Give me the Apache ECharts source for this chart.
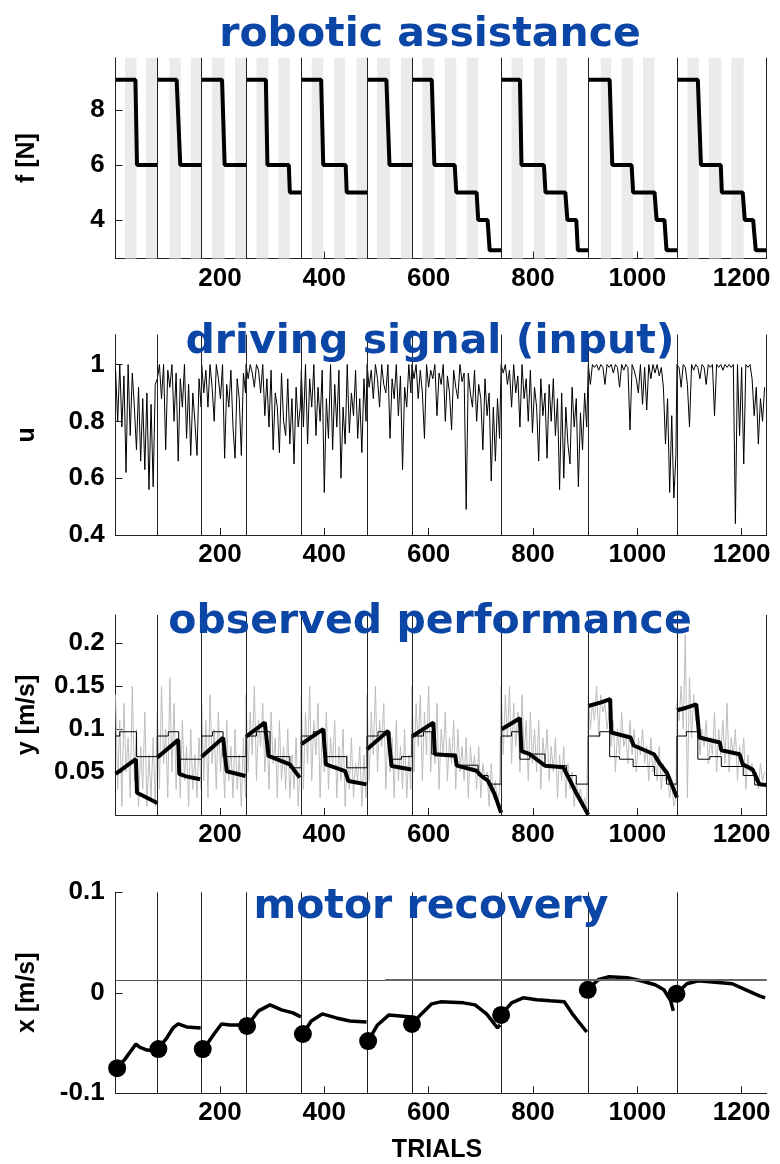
<!DOCTYPE html>
<html>
<head>
<meta charset="utf-8">
<script src="https://cdn.jsdelivr.net/npm/echarts@6/dist/echarts.min.js"></script>
<style>
html,body{margin:0;padding:0;background:#fff;}
#chart{width:780px;height:1164px;}
</style>
</head>
<body>
<div id="chart"></div>
<script>
// ---------- data ----------
const BOUNDS = [0, 80, 165, 250, 356, 482, 568, 739, 906, 1076, 1247];
const SAMPLE_STEP = 4;
const X_TICKS = [200, 400, 600, 800, 1000, 1200];

const TITLES = ['robotic assistance', 'driving signal (input)', 'observed performance', 'motor recovery'];
const Y_NAMES = ['f [N]', 'u', 'y [m/s]', 'x [m/s]'];
const X_NAME = 'TRIALS';

const F_TICKS = [4, 6, 8];
const U_TICKS = [0.4, 0.6, 0.8, 1];
const Y_TICKS = [0.05, 0.1, 0.15, 0.2];
const X_REC_TICKS = [-0.1, 0, 0.1];

// grey practice bands (trial ranges)
const BANDS = [[18,40],[58,79],[103,125],[144,164],[185,209],[229,250],[270,293],[312,334],
  [376,398],[419,440],[462,482],[501,526],[547,568],[588,611],[631,653],[673,695],
  [759,781],[802,823],[845,865],[930,950],[970,992],[1011,1033],[1096,1118],[1137,1161],[1180,1204]];

// robotic assistance f [N] per block
const F_BLOCKS = [
  [[0,9.1],[38,9.1],[41,6],[80,6]],
  [[80,9.1],[117,9.1],[124,6],[165,6]],
  [[165,9.1],[204,9.1],[209,6],[250,6]],
  [[250,9.1],[288,9.1],[291,6],[332,6],[334,5],[356,5]],
  [[356,9.1],[394,9.1],[398,6],[441,6],[443,5],[482,5]],
  [[482,9.1],[519,9.1],[525,6],[568,6]],
  [[568,9.1],[606,9.1],[611,6],[650,6],[653,5],[692,5],[695,4],[713,4],[717,2.9],[739,2.9]],
  [[739,9.1],[775,9.1],[778,6],[821,6],[824,5],[862,5],[866,4],[883,4],[886,2.9],[906,2.9]],
  [[906,9.1],[947,9.1],[952,6],[989,6],[992,5],[1033,5],[1037,4],[1052,4],[1056,2.9],[1076,2.9]],
  [[1076,9.1],[1116,9.1],[1122,6],[1160,6],[1162,5],[1202,5],[1206,4],[1222,4],[1227,2.9],[1247,2.9]]
];

// driving signal u, one value every SAMPLE_STEP trials from each block start
const u1 = [0.98,0.80,1.00,0.78,0.96,0.62,1.00,0.75,0.97,0.85,0.70,0.92,0.66,0.88,0.63,0.90,0.56,0.86,0.57,0.93];
const u2 = [0.95,1.00,0.88,1.00,0.70,0.98,0.92,1.00,0.80,0.97,0.66,0.95,0.85,1.00,0.74,0.93,0.68,0.90,0.80,0.68,0.95,0.85];
const u3 = [1.00,0.90,0.98,0.85,1.00,0.92,0.80,1.00,0.95,0.88,1.00,0.67,0.93,0.85,0.98,0.78,0.67,0.95,0.88,0.68,0.97,0.90];
const u4 = [1.00,0.95,1.00,0.97,0.92,1.00,0.98,0.90,1.00,0.82,0.95,0.78,0.98,0.70,0.90,0.85,0.69,0.97,0.80,0.75,0.95,0.72,0.88,0.65,0.92,0.78,0.85];
const u5 = [0.98,0.78,1.00,0.72,0.95,0.85,1.00,0.75,0.92,0.80,0.98,0.55,0.88,0.74,1.00,0.70,0.93,0.78,0.98,0.60,0.85,0.72,1.00,0.76,0.90,0.82,0.98,0.74,0.88,0.69,0.95,0.80];
const u6 = [1.00,0.92,0.98,0.88,1.00,0.95,0.85,1.00,0.93,0.90,1.00,0.74,0.95,0.88,1.00,0.82,0.96,0.63,0.92,0.85,1.00,0.90];
const u7 = [1.00,0.95,1.00,0.88,0.98,0.90,0.74,1.00,0.92,0.98,0.95,1.00,0.82,0.97,0.93,1.00,0.80,0.96,0.90,0.77,0.98,0.92,0.88,1.00,0.94,0.97,0.49,0.97,0.90,0.85,0.98,0.80,0.93,0.88,0.70,0.95,0.82,0.90,0.59,0.85,0.66,0.88,0.74];
const u8 = [1.00,0.97,1.00,0.93,0.98,0.85,1.00,0.90,0.96,0.78,1.00,0.88,0.95,0.80,0.98,0.76,0.92,0.85,0.66,0.95,0.82,0.90,0.67,0.93,0.80,0.95,0.75,0.88,0.56,0.90,0.60,0.85,0.72,0.65,0.92,0.78,0.88,0.57,0.83,0.70,0.90,0.78];
const u9 = [1.00,0.93,1.00,0.99,1.00,0.98,1.00,0.99,0.93,1.00,0.99,1.00,0.97,1.00,0.99,0.92,1.00,0.98,1.00,0.99,0.77,1.00,0.98,0.95,0.90,1.00,0.86,0.99,0.84,1.00,0.95,1.00,0.97,1.00,0.96,0.99,0.92,0.72,0.88,0.55,0.82,0.53,0.68];
const u10 = [1.00,0.99,0.92,1.00,0.99,0.93,0.78,1.00,0.98,1.00,0.99,0.95,1.00,0.99,0.93,1.00,0.99,1.00,0.82,1.00,0.99,1.00,0.98,1.00,0.99,1.00,0.99,1.00,0.44,1.00,0.75,0.99,0.65,1.00,0.99,1.00,0.95,0.82,0.92,0.72,0.88,0.80,0.92];
const U_BLOCKS = [u1,u2,u3,u4,u5,u6,u7,u8,u9,u10];

// observed performance y, raw trials (grey), one value every SAMPLE_STEP trials
const g1 = [0.14,0.03,0.11,0.01,0.13,0.05,0.09,0.02,0.15,0.04,0.10,0.01,0.08,0.03,0.12,0.01,0.07,0.02,0.09,0.01];
const g2 = [0.12,0.03,0.15,0.06,0.10,0.02,0.16,0.05,0.13,0.03,0.09,0.02,0.11,0.04,0.08,0.01,0.10,0.03,0.07,0.02,0.09,0.03];
const g3 = [0.13,0.04,0.11,0.02,0.14,0.06,0.10,0.03,0.12,0.05,0.09,0.02,0.11,0.04,0.08,0.02,0.10,0.03,0.07,0.01,0.09,0.02];
const g4 = [0.14,0.05,0.12,0.07,0.15,0.04,0.11,0.08,0.13,0.05,0.10,0.03,0.12,0.06,0.09,0.02,0.11,0.04,0.08,0.03,0.10,0.02,0.07,0.03,0.09,0.01,0.06];
const g5 = [0.14,0.03,0.12,0.06,0.15,0.04,0.11,0.07,0.13,0.02,0.10,0.05,0.12,0.03,0.09,0.06,0.11,0.02,0.08,0.04,0.10,0.01,0.07,0.03,0.09,0.02,0.06,0.04,0.08,0.01,0.07,0.02];
const g6 = [0.14,0.04,0.12,0.07,0.15,0.05,0.11,0.08,0.13,0.03,0.10,0.05,0.09,0.02,0.11,0.04,0.08,0.03,0.10,0.02,0.07,0.03];
const g7 = [0.15,0.05,0.13,0.08,0.14,0.04,0.12,0.07,0.15,0.05,0.11,0.06,0.13,0.03,0.10,0.07,0.12,0.04,0.09,0.06,0.11,0.03,0.10,0.05,0.08,0.04,0.09,0.02,0.08,0.05,0.07,0.03,0.08,0.02,0.06,0.04,0.05,0.01,0.06,0.02,0.04,0.01,0.03];
const g8 = [0.15,0.07,0.14,0.09,0.15,0.06,0.13,0.08,0.12,0.05,0.14,0.07,0.11,0.04,0.12,0.06,0.10,0.05,0.11,0.03,0.09,0.06,0.10,0.04,0.08,0.05,0.09,0.02,0.07,0.04,0.08,0.02,0.06,0.03,0.05,0.01,0.04,0.02,0.03,0.01,0.02,0.00];
const g9 = [0.14,0.10,0.13,0.11,0.15,0.09,0.14,0.12,0.13,0.10,0.12,0.08,0.11,0.05,0.10,0.07,0.12,0.08,0.09,0.06,0.11,0.07,0.10,0.05,0.09,0.07,0.10,0.06,0.08,0.04,0.09,0.05,0.07,0.04,0.08,0.03,0.06,0.04,0.05,0.02,0.04,0.01,0.02];
const g10 = [0.13,0.11,0.15,0.10,0.21,0.02,0.16,0.09,0.14,0.11,0.12,0.07,0.10,0.08,0.11,0.06,0.09,0.07,0.12,0.05,0.10,0.07,0.11,0.06,0.13,0.05,0.09,0.07,0.10,0.04,0.08,0.06,0.09,0.03,0.07,0.05,0.06,0.04,0.05,0.03,0.06,0.04,0.05];
const G_BLOCKS = [g1,g2,g3,g4,g5,g6,g7,g8,g9,g10];

// observed performance: model step (thin) as [start trial, level]
const Y_MODEL_STEPS = [[0,0.092],[8,0.097],[40,0.068],
  [80,0.092],[101,0.097],[121,0.065],
  [165,0.092],[186,0.097],[206,0.068],
  [250,0.092],[270,0.097],[296,0.068],[334,0.055],
  [356,0.092],[379,0.097],[401,0.068],[443,0.055],
  [482,0.092],[503,0.097],[526,0.065],[548,0.068],
  [568,0.092],[590,0.097],[606,0.071],[653,0.058],[695,0.046],[714,0.036],
  [739,0.092],[759,0.097],[775,0.065],[794,0.071],[823,0.0575],[864,0.046],[883,0.036],
  [906,0.092],[928,0.097],[947,0.068],[966,0.065],[992,0.0565],[1033,0.046],[1056,0.036],
  [1076,0.092],[1094,0.097],[1116,0.065],[1139,0.068],[1161,0.0565],[1203,0.046],[1225,0.035]];
const Y_END = 1247;

// observed performance: smoothed (thick) per block
const Y_SMOOTH_BLOCKS = [
  [[0,0.048],[39,0.065],[41,0.026],[80,0.014]],
  [[80,0.067],[120,0.0875],[122,0.048],[135,0.045],[162,0.0416]],
  [[165,0.068],[206,0.090],[213,0.051],[249,0.0455]],
  [[250,0.0914],[286,0.1077],[293,0.0688],[334,0.059],[353,0.0435]],
  [[356,0.0825],[398,0.100],[403,0.059],[440,0.051],[446,0.0396],[481,0.0357]],
  [[482,0.0766],[522,0.098],[529,0.057],[567,0.053]],
  [[568,0.0914],[609,0.1077],[612,0.0708],[651,0.069],[654,0.0575],[692,0.0516],[700,0.046],[714,0.0396],[726,0.025],[739,0.0026]],
  [[740,0.100],[775,0.1128],[778,0.0744],[794,0.0708],[823,0.0575],[858,0.0555],[868,0.0438],[884,0.0244],[906,0.0003]],
  [[906,0.127],[932,0.1315],[948,0.135],[950,0.0961],[987,0.0903],[993,0.081],[1032,0.0708],[1044,0.059],[1057,0.049],[1076,0.0205]],
  [[1076,0.122],[1094,0.125],[1113,0.129],[1119,0.0903],[1158,0.0845],[1161,0.0755],[1196,0.0708],[1202,0.059],[1221,0.053],[1234,0.0357],[1247,0.035]]
];

// motor recovery x per block
const X_BLOCKS = [
  [[3,-0.075],[18,-0.066],[39,-0.051],[46,-0.054],[60,-0.057],[78,-0.058]],
  [[82,-0.055],[98,-0.045],[110,-0.035],[120,-0.031],[136,-0.034],[163,-0.035]],
  [[167,-0.056],[178,-0.049],[190,-0.040],[203,-0.031],[219,-0.032],[248,-0.032]],
  [[252,-0.033],[274,-0.018],[296,-0.012],[318,-0.017],[340,-0.020],[355,-0.024]],
  [[359,-0.041],[375,-0.028],[396,-0.021],[423,-0.025],[449,-0.028],[481,-0.029]],
  [[484,-0.048],[502,-0.032],[524,-0.022],[546,-0.023],[566,-0.024]],
  [[568,-0.031],[588,-0.020],[606,-0.011],[623,-0.009],[667,-0.010],[689,-0.012],[711,-0.021],[732,-0.035],[737,-0.032]],
  [[739,-0.022],[759,-0.010],[781,-0.005],[807,-0.007],[833,-0.008],[860,-0.009],[877,-0.022],[903,-0.039]],
  [[905,0.003],[925,0.013],[946,0.016],[981,0.015],[1007,0.012],[1034,0.008],[1051,0.003],[1064,-0.008],[1069,-0.018]],
  [[1075,-0.001],[1095,0.009],[1117,0.012],[1138,0.011],[1182,0.009],[1208,0.003],[1234,-0.003],[1245,-0.005]]
];
const X_DOTS = [[3,-0.075],[82,-0.056],[167,-0.056],[252,-0.033],[359,-0.041],[484,-0.048],[568,-0.031],[739,-0.022],[905,0.003],[1075,-0.001]];
const X_TARGET = 0.0127;
const X_TARGET_BOLD_FROM = 517;

// ---------- build series data ----------
function joinBlocks(blocks) {
  const out = [];
  blocks.forEach((b, i) => { if (i > 0) out.push([null, null]); b.forEach(p => out.push(p)); });
  return out;
}
function sampled(blocks) {
  const out = [];
  blocks.forEach((vals, k) => vals.forEach((v, i) => out.push([BOUNDS[k] + i * SAMPLE_STEP, v])));
  return out;
}
function stepLine(steps, end) {
  const out = [];
  steps.forEach((s, i) => {
    const next = i + 1 < steps.length ? steps[i + 1][0] : end;
    out.push([s[0], s[1]]); out.push([next, s[1]]);
  });
  return out;
}
const boundaryLines = BOUNDS.slice(1).map(v => ({ xAxis: v }));
const boundaryLinesRec = BOUNDS.slice(1, -1).map(v => ({ xAxis: v }));
function vlines(data) {
  return { silent: true, symbol: ['none', 'none'], label: { show: false },
    lineStyle: { color: '#222', width: 1, type: 'solid' }, data: data, animation: false };
}

const LEFT = 115.6, WIDTH = 651.1;
const GRIDS = [
  { left: LEFT, width: WIDTH, top: 57.75, height: 200.75 },
  { left: LEFT, width: WIDTH, top: 334.7, height: 200.3 },
  { left: LEFT, width: WIDTH, top: 615, height: 200 },
  { left: LEFT, width: WIDTH, top: 892.3, height: 201 }
];
const Y_RANGES = [[2.6, 9.9], [0.4, 1.105], [0, 0.233], [-0.1, 0.1]];
const Y_TICK_SETS = [F_TICKS, U_TICKS, Y_TICKS, X_REC_TICKS];

const labelFont = { fontFamily: 'Liberation Sans', fontWeight: 'bold', fontSize: 26, color: '#000' };

const option = {
  animation: false,
  backgroundColor: '#fff',
  grid: GRIDS,
  xAxis: GRIDS.map((g, i) => ({
    gridIndex: i, type: 'value', min: 0, max: 1248,
    axisLine: { show: true, onZero: false, lineStyle: { color: '#222', width: 1 } },
    axisTick: { show: true, inside: true, length: 7, customValues: X_TICKS, lineStyle: { color: '#222' } },
    axisLabel: Object.assign({ customValues: X_TICKS, margin: 7, formatter: v => String(v) }, labelFont),
    splitLine: { show: false }
  })),
  yAxis: GRIDS.map((g, i) => ({
    gridIndex: i, type: 'value', min: Y_RANGES[i][0], max: Y_RANGES[i][1],
    axisLine: { show: true, onZero: false, lineStyle: { color: '#222', width: 1 } },
    axisTick: { show: true, inside: true, length: 7, customValues: Y_TICK_SETS[i], lineStyle: { color: '#222' } },
    axisLabel: Object.assign({ customValues: Y_TICK_SETS[i], margin: 11, formatter: v => String(v) }, labelFont),
    splitLine: { show: false }
  })),
  series: [
    { type: 'line', xAxisIndex: 0, yAxisIndex: 0, data: joinBlocks(F_BLOCKS), showSymbol: false,
      connectNulls: false, lineStyle: { color: '#000', width: 4 }, z: 3,
      markArea: { silent: true, itemStyle: { color: '#ebebeb' }, data: BANDS.map(b => [{ xAxis: b[0] }, { xAxis: b[1] }]) },
      markLine: vlines(boundaryLines) },
    { type: 'line', xAxisIndex: 1, yAxisIndex: 1, data: sampled(U_BLOCKS), showSymbol: false,
      lineStyle: { color: '#000', width: 1 }, markLine: vlines(boundaryLines) },
    { type: 'line', xAxisIndex: 2, yAxisIndex: 2, data: sampled(G_BLOCKS), showSymbol: false,
      lineStyle: { color: '#bdbdbd', width: 1 }, z: 2, markLine: vlines(boundaryLines) },
    { type: 'line', xAxisIndex: 2, yAxisIndex: 2, data: stepLine(Y_MODEL_STEPS, Y_END), showSymbol: false,
      lineStyle: { color: '#000', width: 1 }, z: 3 },
    { type: 'line', xAxisIndex: 2, yAxisIndex: 2, data: joinBlocks(Y_SMOOTH_BLOCKS), showSymbol: false,
      connectNulls: false, lineStyle: { color: '#000', width: 4 }, z: 4 },
    { type: 'line', xAxisIndex: 3, yAxisIndex: 3, data: joinBlocks(X_BLOCKS), showSymbol: false,
      connectNulls: false, lineStyle: { color: '#000', width: 3.5 }, z: 4,
      markLine: { silent: true, symbol: ['none', 'none'], label: { show: false },
        data: boundaryLinesRec.map(d => Object.assign({ lineStyle: { color: '#222', width: 1, type: 'solid' } }, d)).concat([
          [{ coord: [0, X_TARGET], lineStyle: { color: '#555', width: 1, type: 'solid' } }, { coord: [1248, X_TARGET] }],
          [{ coord: [X_TARGET_BOLD_FROM, X_TARGET], lineStyle: { color: '#666', width: 2, type: 'solid' } }, { coord: [1248, X_TARGET] }]
        ]) } },
    { type: 'scatter', xAxisIndex: 3, yAxisIndex: 3, data: X_DOTS, symbol: 'circle', symbolSize: 18,
      itemStyle: { color: '#000', opacity: 1 }, z: 5 }
  ],
  graphic: []
};

const TITLE_POS = [[430, 35], [430, 342], [430, 622], [431, 907]];
TITLES.forEach((t, i) => option.graphic.push({
  type: 'text', x: TITLE_POS[i][0], y: TITLE_POS[i][1], z: 100, silent: true,
  style: { text: t, font: 'bold 41px "DejaVu Sans"', fill: '#0b45a5', textAlign: 'center', textVerticalAlign: 'middle', align: 'center', verticalAlign: 'middle' }
}));
GRIDS.forEach((g, i) => option.graphic.push({
  type: 'text', x: 40, y: g.top + g.height / 2, rotation: Math.PI / 2, z: 100, silent: true,
  style: { text: Y_NAMES[i], font: 'bold 25px "Liberation Sans"', fill: '#000', textAlign: 'center', textVerticalAlign: 'bottom', align: 'center', verticalAlign: 'bottom' }
}));
option.graphic.push({
  type: 'text', x: 437, y: 1150, z: 100, silent: true,
  style: { text: X_NAME, font: 'bold 25px "Liberation Sans"', fill: '#000', textAlign: 'center', textVerticalAlign: 'middle', align: 'center', verticalAlign: 'middle' }
});

const chart = echarts.init(document.getElementById('chart'), null, { renderer: 'canvas' });
chart.setOption(option);
</script>
</body>
</html>
